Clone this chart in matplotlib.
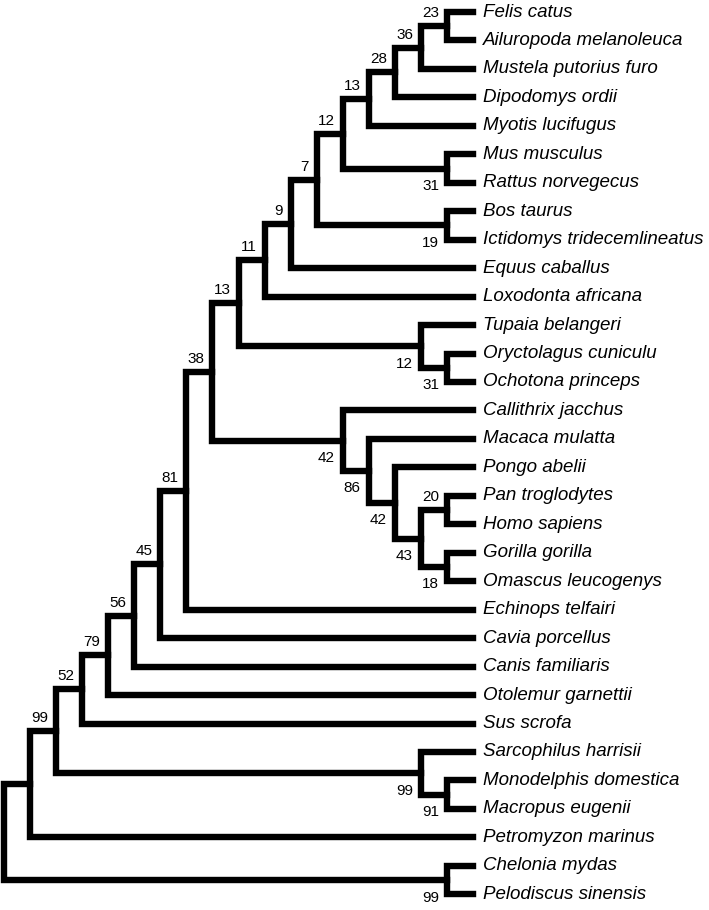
import matplotlib
matplotlib.use("Agg")
import matplotlib.pyplot as plt

plt.rcParams['font.family'] = ['Liberation Sans', 'DejaVu Sans']

# leaves, top to bottom
leaves = ["Felis catus", "Ailuropoda melanoleuca", "Mustela putorius furo",
          "Dipodomys ordii", "Myotis lucifugus", "Mus musculus",
          "Rattus norvegecus", "Bos taurus", "Ictidomys tridecemlineatus",
          "Equus caballus", "Loxodonta africana", "Tupaia belangeri",
          "Oryctolagus cuniculu", "Ochotona princeps", "Callithrix jacchus",
          "Macaca mulatta", "Pongo abelii", "Pan troglodytes", "Homo sapiens",
          "Gorilla gorilla", "Omascus leucogenys", "Echinops telfairi",
          "Cavia porcellus", "Canis familiaris", "Otolemur garnettii",
          "Sus scrofa", "Sarcophilus harrisii", "Monodelphis domestica",
          "Macropus eugenii", "Petromyzon marinus", "Chelonia mydas",
          "Pelodiscus sinensis"]

# clades as ranges of leaf indices (first, last) and their support values
clade_first = [0, 0, 0, 0, 5, 0, 7, 0, 0, 0, 12, 11, 0, 17, 19, 17, 16, 15,
               14, 0, 0, 0, 0, 0, 0, 27, 26, 0, 0, 30, 0]
clade_last = [1, 2, 3, 4, 6, 6, 8, 8, 9, 10, 13, 13, 13, 18, 20, 20, 20, 20,
              20, 20, 21, 22, 23, 24, 25, 28, 28, 28, 29, 31, 31]
clade_support = ["23", "36", "28", "13", "31", "12", "19", "7", "9", "11",
                 "31", "12", "13", "20", "18", "43", "42", "86", "42", "38",
                 "81", "45", "56", "79", "52", "91", "99", "99", "", "99", ""]

W, H = 709, 910
fig = plt.figure(figsize=(W / 100, H / 100), dpi=100)
ax = fig.add_axes([0, 0, 1, 1])
ax.axis('off')

# pixel scale of the layout
px_x, x0 = 26.06, 4
px_y, y0 = 28.46, 12
ax.set_xlim(-x0 / px_x, (W - x0) / px_x)
ax.set_ylim((H - y0) / px_y, -y0 / px_y)

ranges = {(a, b): s for a, b, s in zip(clade_first, clade_last, clade_support)}


def children(a, b):
    out = []
    i = a
    while i <= b:
        best = None
        for (c, d) in ranges:
            if c == i and d <= b and (c, d) != (a, b):
                if best is None or d > best[1]:
                    best = (c, d)
        if best is None:
            out.append(i)
            i += 1
        else:
            out.append(best)
            i = best[1] + 1
    return out


height = {}
ypos = {}


def layout(node):
    if isinstance(node, int):
        height[node] = 0
        ypos[node] = node
        return
    kids = children(*node)
    for k in kids:
        layout(k)
    height[node] = 1 + max(height[k] for k in kids)
    ypos[node] = (ypos[kids[0]] + ypos[kids[-1]]) / 2


root = (0, len(leaves) - 1)
layout(root)
top_h = height[root]


def xpos(node):
    return top_h - height[node]


lw = 4.6
for node in ranges:
    kids = children(*node)
    x = xpos(node)
    t, b = kids[0], kids[-1]
    ax.plot([xpos(t), x, x, xpos(b)], [ypos[t], ypos[t], ypos[b], ypos[b]],
            color='black', lw=lw, solid_joinstyle='miter',
            solid_capstyle='projecting')
    for k in kids[1:-1]:
        ax.plot([x, xpos(k)], [ypos[k], ypos[k]], color='black', lw=lw,
                solid_capstyle='projecting')
    s = ranges[node]
    if s:
        parent_kids = None
        for p in ranges:
            pk = children(*p)
            if node in pk:
                parent_kids = pk
        upper = parent_kids is not None and parent_kids[0] == node
        dy = 13 if upper else -17.5
        ax.annotate(s, (x, ypos[node]), xytext=(-8 * 0.72, dy * 0.72),
                    textcoords='offset points', ha='right', va='center',
                    fontsize=11)

for i, name in enumerate(leaves):
    ax.annotate(name, (top_h, i), xytext=(10 * 0.72, 0),
                textcoords='offset points', ha='left', va='center',
                fontsize=13.5, style='italic')

fig.savefig("out.png", dpi=100)
